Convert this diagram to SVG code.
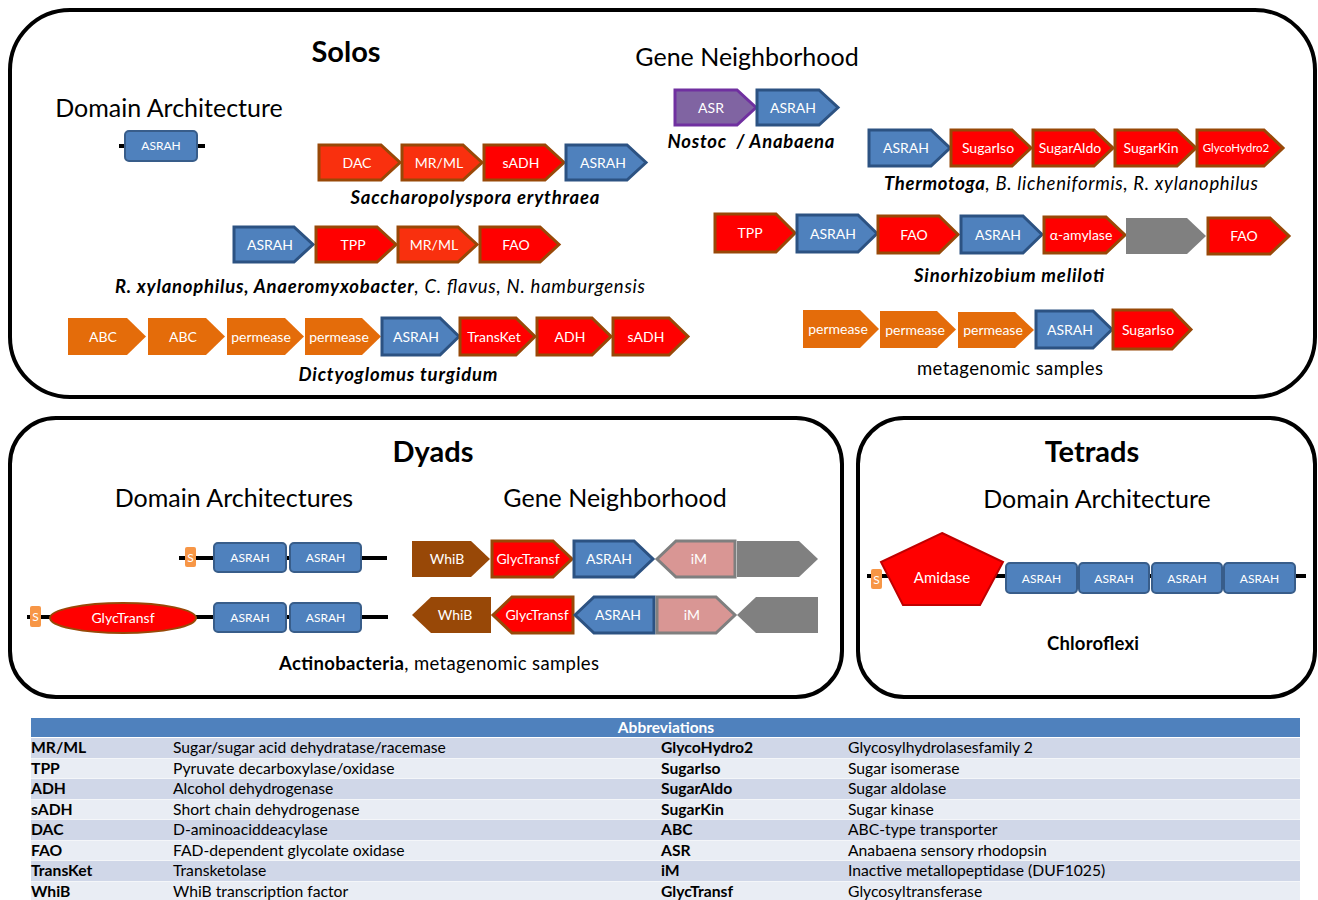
<svg xmlns="http://www.w3.org/2000/svg" width="1318" height="900" viewBox="0 0 1318 900">
<style>
text{font-family:Lato,"Open Sans","Liberation Sans",sans-serif}
.box{fill:#fff;stroke:#000;stroke-width:4}
.h1{font-size:29px;font-weight:bold;text-anchor:middle;fill:#000}
.h2{font-size:25px;text-anchor:middle;fill:#000}
.sp{font-size:18.5px;text-anchor:middle;fill:#000;font-style:italic}
.b{font-weight:bold}
.n{font-style:normal}
.l{font-size:14px;fill:#fff;text-anchor:middle}
.red{fill:#ff0000;stroke:#984807;stroke-width:3}
.ored{fill:#f9300e;stroke:#984807;stroke-width:3}
.blue{fill:#4f81bd;stroke:#2c5282;stroke-width:3}
.orange{fill:#e46c0a}
.purple{fill:#8064a2;stroke:#7030a0;stroke-width:3}
.gray{fill:#808080}
.brown{fill:#984807}
.pink{fill:#d99694;stroke:#7f7f7f;stroke-width:3}
.dom{fill:#4f81bd;stroke:#385d8a;stroke-width:2}
.s{fill:#f79646}
.bb{stroke:#000;stroke-width:4}
.tr0{fill:#d0d7e8}
.tr1{fill:#e9edf4}
.t{font-size:15.7px;fill:#000}
</style>

<rect class="box" x="10" y="10" width="1305" height="387" rx="60"/>
<rect class="box" x="10" y="418" width="832" height="279" rx="46"/>
<rect class="box" x="858" y="418" width="457" height="279" rx="46"/>

<g id="connectors">
<line class="bb" x1="119" y1="146" x2="205" y2="146"/>
<line class="bb" x1="179" y1="558" x2="387" y2="558"/>
<line class="bb" x1="27" y1="617" x2="388" y2="617"/>
<line class="bb" x1="867" y1="576" x2="1306" y2="576"/>
</g>

<g id="solos-titles">
<text class="h1" x="346" y="62">Solos</text>
<text class="h2" x="747" y="66">Gene Neighborhood</text>
<text class="h2" x="169" y="117">Domain Architecture</text>
</g>

<g id="solo-domain">
<rect class="dom" x="125" y="131" width="72" height="30" rx="4"/>
<text class="l" x="161" y="150" style="font-size:12px">ASRAH</text>
</g>

<g id="saccharopolyspora">
<polygon class="ored" points="319,145 381,145 400,162.5 381,180 319,180"/>
<polygon class="ored" points="402,145 463,145 482,162.5 463,180 402,180"/>
<polygon class="red" points="484,145 545,145 564,162.5 545,180 484,180"/>
<polygon class="blue" points="566,145 627,145 646,162.5 627,180 566,180"/>
<text class="l" x="357" y="167.5">DAC</text>
<text class="l" x="439" y="167.5">MR/ML</text>
<text class="l" x="521" y="167.5">sADH</text>
<text class="l" x="603" y="167.5">ASRAH</text>
<text class="sp b" x="475" y="204" textLength="249">Saccharopolyspora erythraea</text>
</g>

<g id="rxylanophilus">
<polygon class="blue" points="234,227 294,227 313,244.5 294,262 234,262"/>
<polygon class="red" points="316,227 377,227 396,244.5 377,262 316,262"/>
<polygon class="ored" points="398,227 458,227 477,244.5 458,262 398,262"/>
<polygon class="red" points="480,227 540,227 559,244.5 540,262 480,262"/>
<text class="l" x="270" y="249.5">ASRAH</text>
<text class="l" x="353" y="249.5">TPP</text>
<text class="l" x="434" y="249.5">MR/ML</text>
<text class="l" x="516" y="249.5">FAO</text>
<text class="sp" x="380" y="293" textLength="530"><tspan class="b">R. xylanophilus, Anaeromyxobacter</tspan>, C. flavus, N. hamburgensis</text>
</g>

<g id="dictyoglomus">
<polygon class="orange" points="68,318 127,318 146,336.5 127,355 68,355"/>
<polygon class="orange" points="148,318 206,318 225,336.5 206,355 148,355"/>
<polygon class="orange" points="227,318 285,318 304,336.5 285,355 227,355"/>
<polygon class="orange" points="305,318 362,318 381,336.5 362,355 305,355"/>
<polygon class="blue" points="382,318 440,318 459,336.5 440,355 382,355"/>
<polygon class="red" points="460,318 516,318 535,336.5 516,355 460,355"/>
<polygon class="red" points="537,318 592,318 611,336.5 592,355 537,355"/>
<polygon class="red" points="613,318 669,318 688,336.5 669,355 613,355"/>
<text class="l" x="103" y="341.5">ABC</text>
<text class="l" x="183" y="341.5">ABC</text>
<text class="l" x="261" y="341.5">permease</text>
<text class="l" x="339" y="341.5">permease</text>
<text class="l" x="416" y="341.5">ASRAH</text>
<text class="l" x="494" y="341.5">TransKet</text>
<text class="l" x="570" y="341.5">ADH</text>
<text class="l" x="646" y="341.5">sADH</text>
<text class="sp b" x="398" y="381" textLength="199">Dictyoglomus turgidum</text>
</g>

<g id="nostoc">
<polygon class="purple" points="675,90 737,90 756,107.5 737,125 675,125"/>
<polygon class="blue" points="757,90 819,90 838,107.5 819,125 757,125"/>
<text class="l" x="711" y="112.5">ASR</text>
<text class="l" x="793" y="112.5">ASRAH</text>
<text class="sp b" x="751" y="148" textLength="167" xml:space="preserve">Nostoc  / Anabaena</text>
</g>

<g id="thermotoga">
<polygon class="blue" points="869,130 931,130 950,148 931,166 869,166"/>
<polygon class="red" points="951,130 1012,130 1031,148 1012,166 951,166"/>
<polygon class="red" points="1033,130 1094,130 1113,148 1094,166 1033,166"/>
<polygon class="red" points="1115,130 1177,130 1196,148 1177,166 1115,166"/>
<polygon class="red" points="1197,130 1264,130 1283,148 1264,166 1197,166"/>
<text class="l" x="906" y="153">ASRAH</text>
<text class="l" x="988" y="153">SugarIso</text>
<text class="l" x="1070" y="153">SugarAldo</text>
<text class="l" x="1151" y="153">SugarKin</text>
<text class="l" x="1236" y="152" style="font-size:11.5px">GlycoHydro2</text>
<text class="sp" x="1071" y="190" textLength="374"><tspan class="b">Thermotoga</tspan>, B. licheniformis, R. xylanophilus</text>
</g>

<g id="sinorhizobium">
<polygon class="red" points="715,214 776,214 795,233 776,252 715,252"/>
<polygon class="blue" points="797,215 858,215 877,233.5 858,252 797,252"/>
<polygon class="red" points="878,216 939,216 958,234.5 939,253 878,253"/>
<polygon class="blue" points="961,216 1023,216 1042,234.5 1023,253 961,253"/>
<polygon class="red" points="1044,217 1106,217 1125,235 1106,253 1044,253"/>
<polygon class="gray" points="1126,218 1187,218 1206,236 1187,254 1126,254"/>
<polygon class="red" points="1208,218 1270,218 1289,236 1270,254 1208,254"/>
<text class="l" x="750" y="238">TPP</text>
<text class="l" x="833" y="239">ASRAH</text>
<text class="l" x="914" y="240">FAO</text>
<text class="l" x="998" y="240">ASRAH</text>
<text class="l" x="1081" y="240">α-amylase</text>
<text class="l" x="1244" y="241">FAO</text>
<text class="sp b" x="1009" y="282" textLength="190">Sinorhizobium meliloti</text>
</g>

<g id="metagenomic">
<polygon class="orange" points="803,310 860,310 879,329 860,348 803,348"/>
<polygon class="orange" points="880,311 937,311 956,329.5 937,348 880,348"/>
<polygon class="orange" points="958,312 1015,312 1034,330 1015,348 958,348"/>
<polygon class="blue" points="1036,311 1093,311 1112,329.5 1093,348 1036,348"/>
<polygon class="red" points="1113,310 1172,310 1191,329.5 1172,349 1113,349"/>
<text class="l" x="838" y="334">permease</text>
<text class="l" x="915" y="335">permease</text>
<text class="l" x="993" y="335">permease</text>
<text class="l" x="1070" y="335">ASRAH</text>
<text class="l" x="1148" y="335">SugarIso</text>
<text class="sp n" x="1010" y="375" textLength="186">metagenomic samples</text>
</g>

<g id="dyads-titles">
<text class="h1" x="433" y="462">Dyads</text>
<text class="h2" x="234" y="507">Domain Architectures</text>
<text class="h2" x="615" y="507">Gene Neighborhood</text>
</g>

<g id="dyad-domain1">
<rect class="s" x="185" y="547" width="11" height="20" rx="2"/>
<text class="l" x="190.5" y="562" style="font-size:12px">S</text>
<rect class="dom" x="214" y="543" width="72" height="29" rx="4"/>
<rect class="dom" x="290" y="543" width="71" height="29" rx="4"/>
<text class="l" x="250" y="562" style="font-size:12px">ASRAH</text>
<text class="l" x="325.5" y="562" style="font-size:12px">ASRAH</text>
</g>

<g id="dyad-domain2">
<rect class="s" x="30" y="606" width="11" height="21" rx="2"/>
<text class="l" x="35.5" y="621" style="font-size:12px">S</text>
<ellipse cx="123" cy="618" rx="73" ry="15" fill="#ff0000" stroke="#984807" stroke-width="2"/>
<text class="l" x="123" y="623">GlycTransf</text>
<rect class="dom" x="214" y="603" width="72" height="29" rx="4"/>
<rect class="dom" x="290" y="603" width="71" height="29" rx="4"/>
<text class="l" x="250" y="622" style="font-size:12px">ASRAH</text>
<text class="l" x="325.5" y="622" style="font-size:12px">ASRAH</text>
</g>

<g id="dyad-neighborhood1">
<polygon class="brown" points="412,541 471,541 490,559 471,577 412,577"/>
<polygon class="red" points="492,541 553,541 572,559 553,577 492,577"/>
<polygon class="blue" points="574,541 634,541 653,559 634,577 574,577"/>
<polygon class="pink" points="657,559 676,541 735,541 735,577 676,577"/>
<polygon class="gray" points="737,541 799,541 818,559 799,577 737,577"/>
<text class="l" x="447" y="564">WhiB</text>
<text class="l" x="528" y="564">GlycTransf</text>
<text class="l" x="609" y="564">ASRAH</text>
<text class="l" x="699" y="564">iM</text>
</g>

<g id="dyad-neighborhood2">
<polygon class="brown" points="412,615 431,597 491,597 491,633 431,633"/>
<polygon class="red" points="493,615 512,597 573,597 573,633 512,633"/>
<polygon class="blue" points="575,615 594,597 654,597 654,633 594,633"/>
<polygon class="pink" points="657,597 716,597 735,615 716,633 657,633"/>
<polygon class="gray" points="737,615 756,597 818,597 818,633 756,633"/>
<text class="l" x="455" y="620">WhiB</text>
<text class="l" x="537" y="620">GlycTransf</text>
<text class="l" x="618" y="620">ASRAH</text>
<text class="l" x="692" y="620">iM</text>
</g>

<g id="dyads-species">
<text x="279" y="670" style="font-size:18.5px" fill="#000" textLength="320"><tspan class="b">Actinobacteria</tspan>, metagenomic samples</text>
</g>

<g id="tetrads-titles">
<text class="h1" x="1092" y="462">Tetrads</text>
<text class="h2" x="1097" y="508">Domain Architecture</text>
</g>

<g id="tetrad-domain">
<rect class="s" x="871" y="569" width="11" height="20" rx="2"/>
<text class="l" x="876.5" y="584" style="font-size:12px">S</text>
<polygon points="942,533 1003,562 980,605 903,605 881,562" fill="#ff0000" stroke="#c00000" stroke-width="2"/>
<text class="l" x="942" y="583" style="font-size:15px">Amidase</text>
<rect class="dom" x="1006" y="563" width="71" height="30" rx="4"/>
<rect class="dom" x="1079" y="563" width="70" height="30" rx="4"/>
<rect class="dom" x="1152" y="563" width="70" height="30" rx="4"/>
<rect class="dom" x="1224" y="563" width="71" height="30" rx="4"/>
<text class="l" x="1041.5" y="582.5" style="font-size:12px">ASRAH</text>
<text class="l" x="1114" y="582.5" style="font-size:12px">ASRAH</text>
<text class="l" x="1187" y="582.5" style="font-size:12px">ASRAH</text>
<text class="l" x="1259.5" y="582.5" style="font-size:12px">ASRAH</text>
<text class="b" x="1093" y="650" text-anchor="middle" style="font-size:18.5px" fill="#000" textLength="92">Chloroflexi</text>
</g>

<g id="abbreviations">
<rect x="31" y="718" width="1269" height="19" fill="#4f81bd"/>
<text class="b" x="666" y="733" text-anchor="middle" style="font-size:15.5px" fill="#fff">Abbreviations</text>
<rect class="tr0" x="31" y="738" width="1269" height="20"/>
<rect class="tr1" x="31" y="758.5" width="1269" height="20"/>
<rect class="tr0" x="31" y="779" width="1269" height="20"/>
<rect class="tr1" x="31" y="799.5" width="1269" height="20"/>
<rect class="tr0" x="31" y="820" width="1269" height="20"/>
<rect class="tr1" x="31" y="840.5" width="1269" height="20"/>
<rect class="tr0" x="31" y="861" width="1269" height="20"/>
<rect class="tr1" x="31" y="881.5" width="1269" height="20"/>
<g class="t">
<text class="t b" x="31" y="753">MR/ML</text><text class="t" x="173" y="753">Sugar/sugar acid dehydratase/racemase</text>
<text class="t b" x="661" y="753">GlycoHydro2</text><text class="t" x="848" y="753">Glycosylhydrolasesfamily 2</text>
<text class="t b" x="31" y="774">TPP</text><text class="t" x="173" y="774">Pyruvate decarboxylase/oxidase</text>
<text class="t b" x="661" y="774">SugarIso</text><text class="t" x="848" y="774">Sugar isomerase</text>
<text class="t b" x="31" y="794">ADH</text><text class="t" x="173" y="794">Alcohol dehydrogenase</text>
<text class="t b" x="661" y="794">SugarAldo</text><text class="t" x="848" y="794">Sugar aldolase</text>
<text class="t b" x="31" y="815">sADH</text><text class="t" x="173" y="815">Short chain dehydrogenase</text>
<text class="t b" x="661" y="815">SugarKin</text><text class="t" x="848" y="815">Sugar kinase</text>
<text class="t b" x="31" y="835">DAC</text><text class="t" x="173" y="835">D-aminoaciddeacylase</text>
<text class="t b" x="661" y="835">ABC</text><text class="t" x="848" y="835">ABC-type transporter</text>
<text class="t b" x="31" y="856">FAO</text><text class="t" x="173" y="856">FAD-dependent glycolate oxidase</text>
<text class="t b" x="661" y="856">ASR</text><text class="t" x="848" y="856">Anabaena sensory rhodopsin</text>
<text class="t b" x="31" y="876">TransKet</text><text class="t" x="173" y="876">Transketolase</text>
<text class="t b" x="661" y="876">iM</text><text class="t" x="848" y="876">Inactive metallopeptidase (DUF1025)</text>
<text class="t b" x="31" y="897">WhiB</text><text class="t" x="173" y="897">WhiB transcription factor</text>
<text class="t b" x="661" y="897">GlycTransf</text><text class="t" x="848" y="897">Glycosyltransferase</text>
</g>
</g>
</svg>
